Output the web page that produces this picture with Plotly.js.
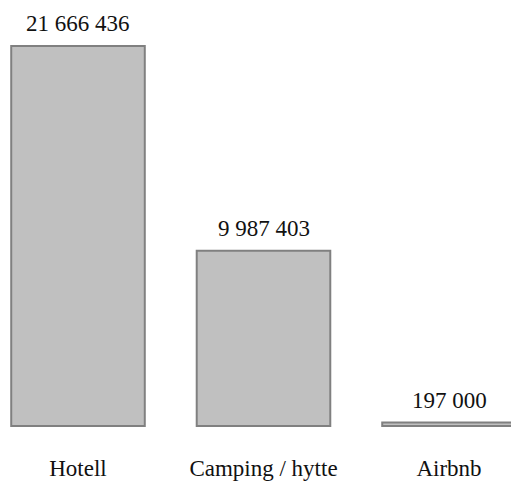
<!DOCTYPE html>
<html>
<head>
<meta charset="utf-8">
<script src="https://cdn.plot.ly/plotly-3.0.1.min.js"></script>
<style>
  html, body { margin: 0; padding: 0; background: #fff; }
  #chart { width: 511px; height: 482px; }
</style>
</head>
<body>
<div id="chart"></div>
<script>
const categories = ["Hotell", "Camping / hytte", "Airbnb"];
const values = [21666436, 9987403, 197000];

function fmt(v) {
  return String(v).replace(/\B(?=(\d{3})+(?!\d))/g, " ");
}

const FONT = "'Times New Roman', 'Liberation Serif', Tinos, 'DejaVu Serif', serif";

const trace = {
  type: "bar",
  x: categories,
  y: values,
  marker: {
    color: "#c0c0c0",
    line: { color: "#808080", width: 2 }
  },
  hoverinfo: "none"
};

const annotations = categories.map((c, i) => ({
  x: c,
  y: values[i],
  xref: "x",
  yref: "y",
  text: fmt(values[i]),
  showarrow: false,
  xanchor: "center",
  yanchor: "bottom",
  yshift: 8,
  font: { family: FONT, size: 23, color: "#111" }
}));

const layout = {
  width: 511,
  height: 482,
  font: { family: FONT, size: 23, color: "#111" },
  margin: { l: 0, r: 0, t: 0, b: 54 },
  paper_bgcolor: "#ffffff",
  plot_bgcolor: "#ffffff",
  showlegend: false,
  bargap: 0.28,
  xaxis: {
    type: "category",
    range: [-0.4205, 2.3342],
    showgrid: false,
    zeroline: false,
    showline: false,
    ticks: "",
    ticklabelstandoff: 24,
    tickfont: { family: FONT, size: 23, color: "#111" },
    fixedrange: true
  },
  yaxis: {
    range: [-114000, 24290000],
    visible: false,
    showgrid: false,
    zeroline: false,
    fixedrange: true
  },
  annotations: annotations
};

Plotly.newPlot("chart", [trace], layout, { displayModeBar: false, staticPlot: true });
</script>
</body>
</html>
